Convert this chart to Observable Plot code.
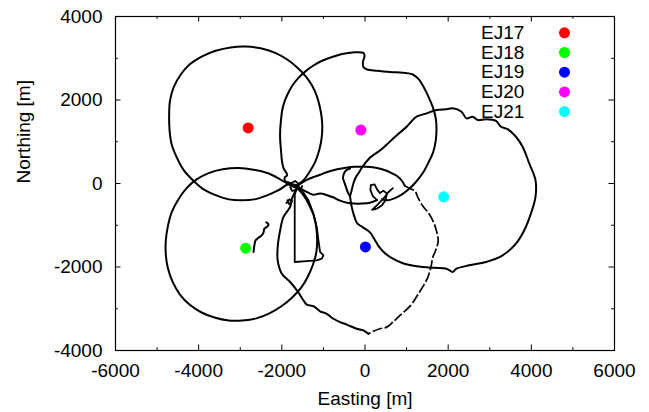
<!DOCTYPE html>
<html><head><meta charset="utf-8">
<script src="https://cdn.jsdelivr.net/npm/d3@7"></script>
<script src="https://cdn.jsdelivr.net/npm/@observablehq/plot@0.6"></script>
<style>html,body{margin:0;padding:0;background:#fff}</style>
</head><body><div id="chart"></div>
<script>
// ---- stations (legend order) ----
const stationNames = ["EJ17","EJ18","EJ19","EJ20","EJ21"];
const stationEasting = [-2810,-2870,10,-100,1890];
const stationNorthing = [1330,-1550,-1520,1280,-320];
const stationColors = ["#ff0000","#00ff00","#0000ff","#ff00ff","#00ffff"];

// ---- ticks ----
const xTickLabels = [-6000,-4000,-2000,0,2000,4000,6000];
const xMinorTicks = [-5000,-3000,-1000,1000,3000,5000];
const yTickLabels = [-4000,-2000,0,2000,4000];
const yMinorTicks = [-3000,-1000,1000,3000];

// ---- vehicle track pieces [easting, northing] ----
const trackLoopEJ17 = [[-1630,-40],[-1460,100],[-1320,300],[-1200,510],[-1100,800],[-1040,1110],[-1030,1450],[-1070,1760],[-1150,2070],[-1270,2340],[-1410,2550],[-1630,2780],[-1870,2970],[-2160,3130],[-2510,3240],[-2870,3280],[-3230,3260],[-3590,3180],[-3930,3040],[-4220,2850],[-4430,2610],[-4600,2310],[-4690,1980],[-4710,1640],[-4700,1280],[-4650,940],[-4530,630],[-4360,320],[-4140,80],[-3880,-140],[-3590,-280],[-3280,-380],[-2970,-400],[-2660,-380],[-2370,-290],[-2080,-160],[-1840,-20],[-1630,-40]];
const trackLoopEJ18 = [[-1630,-110],[-1480,-280],[-1340,-520],[-1230,-780],[-1170,-1070],[-1150,-1360],[-1170,-1650],[-1250,-1940],[-1370,-2220],[-1530,-2490],[-1750,-2730],[-2010,-2940],[-2300,-3110],[-2610,-3230],[-2950,-3280],[-3280,-3280],[-3620,-3210],[-3930,-3090],[-4220,-2900],[-4450,-2660],[-4620,-2370],[-4740,-2030],[-4790,-1700],[-4790,-1360],[-4740,-1020],[-4650,-690],[-4500,-400],[-4290,-110],[-4050,100],[-3760,250],[-3420,340],[-3040,370],[-2680,330],[-2350,250],[-2040,100],[-1800,-40],[-1630,-110]];
const trackLoopEJ20 = [[-1650,-110],[-1800,10],[-1920,60],[-1930,150],[-1870,200],[-1960,370],[-2000,560],[-2020,800],[-2040,1040],[-2040,1280],[-2020,1520],[-1990,1760],[-1940,1950],[-1870,2120],[-1750,2340],[-1600,2530],[-1440,2680],[-1250,2820],[-1030,2940],[-790,3030],[-550,3100],[-290,3140],[-40,3130],[-10,3060],[-50,2910],[-40,2790],[50,2730],[290,2700],[600,2670],[910,2650],[1150,2610],[1290,2500],[1410,2310],[1530,2070],[1630,1830],[1700,1570],[1720,1280],[1700,1020],[1640,750],[1530,510],[1390,250],[1220,30],[1050,-140],[890,-260],[720,-350],[550,-400],[410,-380]];
const trackArcNorth = [[-1580,-20],[-1410,80],[-1250,150],[-1080,210],[-890,280],[-670,340],[-460,380],[-240,400],[-20,400],[190,390],[410,340],[600,270],[770,180],[890,60],[960,-60]];
const trackLoopEJ19Gappy = [[960,-60],[1080,-120],[1200,-180],[1280,-350],[1390,-540],[1530,-710],[1650,-930],[1720,-1140],[1760,-1380],[1700,-1600],[1630,-1770],[1590,-1980],[1510,-2250],[1410,-2440],[1290,-2630],[1100,-2920],[840,-3160],[670,-3320],[520,-3440],[360,-3480],[200,-3540],[80,-3600]];
const trackLoopEJ19 = [[80,-3600],[-40,-3520],[-200,-3480],[-440,-3380],[-600,-3320],[-760,-3240],[-920,-3120],[-1080,-3060],[-1240,-2940],[-1400,-2900],[-1480,-2800],[-1600,-2610],[-1800,-2360],[-2000,-2160],[-2100,-1840],[-2100,-1520],[-2040,-1120],[-1960,-800],[-1800,-560],[-1770,-400],[-1700,-230],[-1630,-110]];
const trackNarrowLoop = [[-1630,-60],[-1690,-280],[-1690,-640],[-1690,-1000],[-1690,-1360],[-1690,-1600],[-1690,-1880],[-1400,-1860],[-1160,-1840],[-1040,-1800],[-1000,-1720],[-1080,-1640],[-1120,-1360],[-1160,-1040],[-1240,-720],[-1360,-400],[-1520,-160],[-1630,-60]];
const trackLoopEJ21 = [[-360,-300],[-320,-160],[-280,0],[-220,150],[-160,240],[-80,370],[0,480],[100,600],[200,680],[360,790],[530,940],[680,1080],[840,1220],[1000,1360],[1110,1480],[1240,1600],[1480,1680],[1720,1760],[1960,1780],[2110,1800],[2320,1720],[2440,1560],[2590,1600],[2710,1520],[2910,1540],[3150,1500],[3270,1360],[3430,1300],[3630,1120],[3790,880],[3950,480],[4100,80],[4100,-320],[3990,-720],[3830,-1120],[3630,-1440],[3310,-1720],[2910,-1880],[2510,-1960],[2200,-2040],[2110,-2120],[1960,-2040],[1640,-2020],[1240,-1980],[910,-1910],[670,-1800],[480,-1670],[340,-1520],[230,-1340],[120,-1170],[-50,-1050],[-190,-950],[-260,-780],[-320,-560],[-360,-300]];
const trackSmallLoop = [[-360,-300],[-400,-240],[-480,-20],[-530,150],[-470,300],[-360,360]];
const trackLinkSouth = [[-1600,-90],[-1440,-180],[-1250,-270],[-1080,-240],[-910,-280],[-770,-330],[-600,-410],[-430,-460],[-260,-480],[-70,-480],[120,-460],[290,-400]];
const trackKnotEast = [[290,-400],[190,-300],[130,-160],[140,-40],[230,-20],[290,-140],[360,-230],[440,-170],[530,-240],[490,-400],[410,-520],[290,-600],[170,-630],[310,-500],[460,-340],[560,-210],[670,-110]];
const trackKnotWest = [[-1770,10],[-1680,60],[-1580,-20],[-1630,-140],[-1750,-180],[-1800,-90],[-1700,-40],[-1560,-160],[-1510,-60]];
const trackKnotSW = [[-1890,-470],[-1820,-380],[-1750,-420],[-1820,-500],[-1870,-400]];
const trackSpurEJ18 = [[-2680,-1640],[-2660,-1480],[-2630,-1360],[-2560,-1300],[-2490,-1250],[-2440,-1170],[-2420,-1080],[-2360,-1040],[-2320,-980],[-2370,-930]];

// ---- layout ----
const W = 649, H = 412, mL = 115, mR = 35, mT = 16, mB = 62;
const pw = W - mL - mR, ph = H - mT - mB;
const font = "'Liberation Sans', Arial, Helvetica, sans-serif";
const FS = 19;

const xy = {x: d => d[0], y: d => d[1]};
const lineOpts = {...xy, stroke: "black", strokeWidth: 2, curve: "catmull-rom", strokeLinejoin: "round", strokeLinecap: "round"};
const smoothTracks = [trackLoopEJ17, trackLoopEJ18, trackLoopEJ20, trackArcNorth, trackLoopEJ19, trackLoopEJ21, trackSmallLoop, trackLinkSouth, trackSpurEJ18];
const rawTracks = [trackNarrowLoop, trackKnotEast, trackKnotWest, trackKnotSW];

const legendMarks = stationNames.flatMap((name, i) => [
  Plot.text([name], {frameAnchor: "top-left", dx: 365.5, dy: 16.3 + i * 19.7, text: d => d, textAnchor: "start", lineAnchor: "middle", fontSize: FS, fill: "black"}),
  Plot.dot([name], {frameAnchor: "top-left", dx: 449, dy: 16.3 + i * 19.7, r: 5.5, fill: stationColors[i], stroke: "none"})
]);

const chart = Plot.plot({
  width: W, height: H,
  marginLeft: mL, marginRight: mR, marginTop: mT, marginBottom: mB,
  x: {domain: [-6000, 6000]},
  y: {domain: [-4000, 4000]},
  color: {type: "identity"},
  style: {fontFamily: font, fontSize: FS + "px", background: "white", color: "black"},
  marks: [
    Plot.axisX({ticks: xTickLabels, tickSize: 0, tickPadding: 13, tickFormat: d => String(d), fontSize: FS, label: null}),
    Plot.axisY({ticks: yTickLabels, tickSize: 0, tickPadding: 13, tickFormat: d => String(d), fontSize: FS, label: null}),
    ...smoothTracks.map(t => Plot.line(t, lineOpts)),
    ...rawTracks.map(t => Plot.line(t, {...lineOpts, curve: "linear", strokeWidth: 1.8})),
    Plot.line(trackLoopEJ19Gappy, {...lineOpts, strokeWidth: 1.7, strokeDasharray: "10,2.5", strokeLinecap: "butt"}),
    Plot.dot(stationNames, {x: (d, i) => stationEasting[i], y: (d, i) => stationNorthing[i], fill: (d, i) => stationColors[i], r: 5.5, stroke: "none"}),
    Plot.tickX(xTickLabels, {x: d => d, insetTop: ph - 5.5, stroke: "black"}),
    Plot.tickX(xTickLabels, {x: d => d, insetBottom: ph - 5.5, stroke: "black"}),
    Plot.tickX(xMinorTicks, {x: d => d, insetTop: ph - 2.8, stroke: "black"}),
    Plot.tickX(xMinorTicks, {x: d => d, insetBottom: ph - 2.8, stroke: "black"}),
    Plot.tickY(yTickLabels, {y: d => d, insetRight: pw - 5.5, stroke: "black"}),
    Plot.tickY(yTickLabels, {y: d => d, insetLeft: pw - 5.5, stroke: "black"}),
    Plot.tickY(yMinorTicks, {y: d => d, insetRight: pw - 2.8, stroke: "black"}),
    Plot.tickY(yMinorTicks, {y: d => d, insetLeft: pw - 2.8, stroke: "black"}),
    Plot.frame({stroke: "black", strokeWidth: 1.2}),
    ...legendMarks,
    Plot.text(["Easting [m]"], {frameAnchor: "bottom", dy: 48, text: d => d, lineAnchor: "middle", fontSize: FS, fill: "black"}),
    Plot.text(["Northing [m]"], {frameAnchor: "left", dx: -91.5, rotate: -90, text: d => d, lineAnchor: "middle", fontSize: FS, fill: "black"})
  ]
});
document.getElementById("chart").appendChild(chart);
</script>
</body></html>
